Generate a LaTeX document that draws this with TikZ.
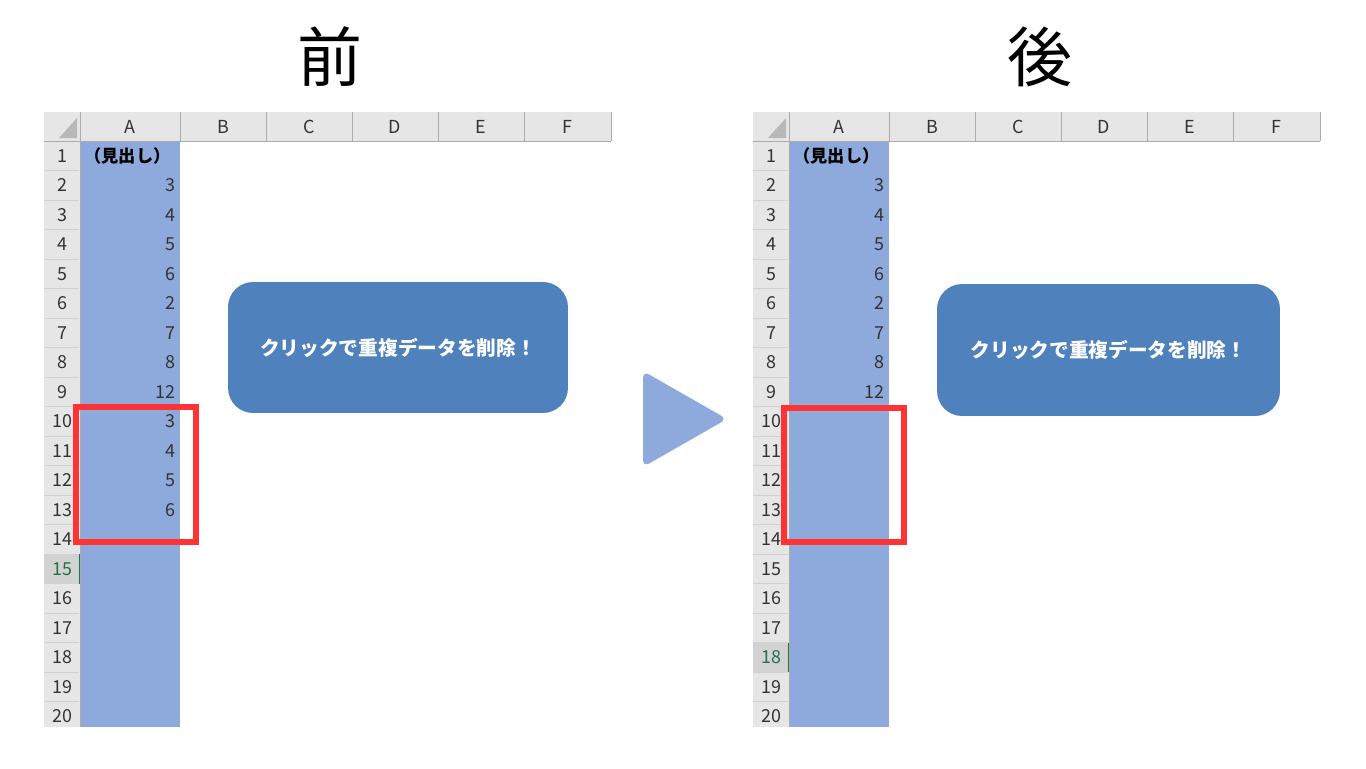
\documentclass[tikz,border=0pt]{standalone}
\usepackage{fontspec}
\setmainfont{Noto Sans CJK JP}
\usetikzlibrary{positioning}

\definecolor{cellblue}{HTML}{8EA9DB}
\definecolor{btnblue}{HTML}{4F81BD}
\definecolor{hdrgray}{HTML}{E6E6E6}
\definecolor{hdrline}{HTML}{ABABAB}
\definecolor{rowline}{HTML}{D0D0D0}
\definecolor{selgray}{HTML}{D2D2D2}
\definecolor{xlgreen}{HTML}{217346}
\definecolor{markred}{HTML}{FF3333}

\tikzset{
  sheettext/.style={inner sep=0pt, text=black!80, font=\fontsize{10.2}{12}\selectfont},
  cellnum/.style={sheettext, anchor=east},
  title/.style={inner sep=0pt, font=\fontsize{37}{40}\selectfont},
  btn/.style={fill=btnblue, rounded corners=0.5cm, text=white,
              font=\bfseries\fontsize{11.2}{13}\selectfont},
  redmark/.style={draw=markred, line width=3.4pt}
}

\begin{document}
\begin{tikzpicture}[x=0.02cm, y=-0.02cm]

\useasboundingbox (0,0) rectangle (1366,768);

\pgfmathsetmacro{\rowh}{29.5}
\pgfmathsetmacro{\ytop}{141}
\pgfmathsetmacro{\ybot}{727}

% --- titles ---
\node[title] (titleL) at (330,57) {前};
\node[title] (titleR) at (1040,57) {後};

% --- both sheets (common part) ---
\foreach \ox/\sn/\sel in {0/L/15, 709/R/18} {
\begin{scope}[shift={(\ox,0)}]
  % header row and row-number column
  \fill[hdrgray] (44,112) rectangle (611,\ytop);
  \fill[hdrgray] (44,\ytop) rectangle (80,\ybot);
  \fill[cellblue] (80,\ytop) rectangle (180,\ybot);
  \fill[black!28] (59,138) -- (77,138) -- (77,118) -- cycle;
  \foreach \xx in {80,180,266,352,438,524,611}
    \draw[hdrline] (\xx,112) -- (\xx,\ytop);
  \draw[hdrline] (44,\ytop) -- (611,\ytop);
  \draw[hdrline] (80,\ytop) -- (80,\ybot);
  \foreach \c/\xc in {A/130,B/223,C/309,D/395,E/481,F/567}
    \node[sheettext] (\sn-col\c) at (\xc,127) {\c};
  % selected row
  \pgfmathsetmacro{\ys}{\ytop+(\sel-1)*\rowh}
  \pgfmathsetmacro{\ye}{\ytop+\sel*\rowh}
  \fill[selgray] (44,\ys) rectangle (80,\ye);
  \draw[xlgreen, line width=1.1pt] (79.5,\ys) -- (79.5,\ye);
  % row numbers
  \foreach \r in {1,...,20} {
    \pgfmathsetmacro{\yc}{\ytop+(\r-0.5)*\rowh}
    \pgfmathsetmacro{\yl}{\ytop+\r*\rowh}
    \ifnum\r<20 \draw[rowline] (44,\yl) -- (79,\yl); \fi
    \node[sheettext] (\sn-row\r) at (62,\yc) {\ifnum\r=\sel\color{xlgreen}\fi\r};
  }
  % heading cell
  \node[sheettext, anchor=west, font=\bfseries\fontsize{9.8}{11}\selectfont, text=black]
    (\sn-head) at (84,156) {（見出し）};
\end{scope}
}

% --- values, before ---
\foreach \r/\v in {2/3,3/4,4/5,5/6,6/2,7/7,8/8,9/12,10/3,11/4,12/5,13/6} {
  \pgfmathsetmacro{\yc}{\ytop+(\r-0.5)*\rowh}
  \node[cellnum] (L-val\r) at (176,\yc) {\v};
}

% --- values, after ---
\foreach \r/\v in {2/3,3/4,4/5,5/6,6/2,7/7,8/8,9/12} {
  \pgfmathsetmacro{\yc}{\ytop+(\r-0.5)*\rowh}
  \node[cellnum] (R-val\r) at (885,\yc) {\v};
}

% --- duplicates marked ---
\draw[redmark] (76,407) rectangle (196,542);
\draw[redmark] (784,408) rectangle (904,542);

% --- buttons ---
\node[btn, minimum width=6.8cm, minimum height=2.62cm] (btnL) at (398,347.5) {クリックで重複データを削除！};
\node[btn, minimum width=6.86cm, minimum height=2.64cm] (btnR) at (1108.5,350) {クリックで重複データを削除！};

% --- arrow between ---
\fill[cellblue, rounded corners=4pt] (643,419) -- (643,371) -- (727,419) -- (643,467) -- cycle;

\end{tikzpicture}
\end{document}
